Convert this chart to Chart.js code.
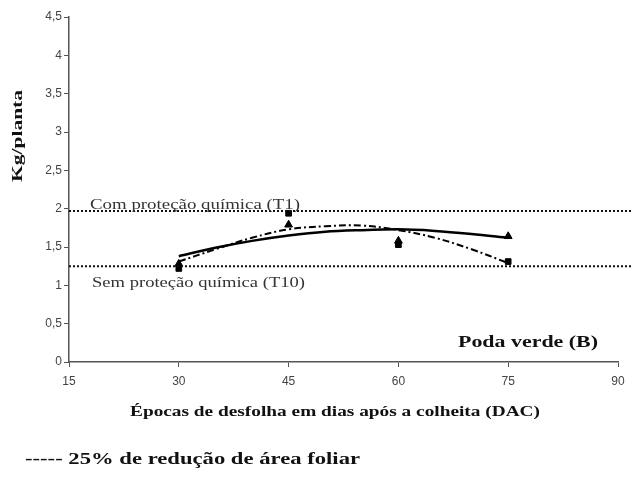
<!DOCTYPE html>
<html lang="pt">
<head>
  <meta charset="UTF-8">
  <title>Poda verde (B)</title>
  <script src="https://cdn.jsdelivr.net/npm/chart.js"></script>
  <style>
    html, body { margin: 0; padding: 0; background: #fff; }
    #wrap { width: 633px; height: 487px; }
  </style>
</head>
<body>
  <div id="wrap"><canvas id="podaChart" width="633" height="487"></canvas></div>
  <script>
    // values
    const epocas = [30, 45, 60, 75];
    const quadrados = [1.22, 1.94, 1.53, 1.31];
    const triangulos = [1.28, 1.79, 1.58, 1.64];

    // trend curves, read at every 5 days
    const tendenciaX = [30, 35, 40, 45, 50, 55, 60, 65, 70, 75];
    const tendenciaContinua = [1.38, 1.49, 1.58, 1.65, 1.70, 1.72, 1.73, 1.71, 1.67, 1.62];
    const tendenciaTracejada = [1.31, 1.47, 1.62, 1.73, 1.77, 1.78, 1.72, 1.62, 1.47, 1.29];

    // reference levels
    const refX = [15, 92.5];
    const comProtecao = 1.97;
    const semProtecao = 1.25;

    const xTicks = [15, 30, 45, 60, 75, 90];
    const yTicks = [0, 0.5, 1, 1.5, 2, 2.5, 3, 3.5, 4, 4.5];

    const pares = (xs, ys) => xs.map((x, i) => ({ x: x, y: ys[i] }));

    // text drawn on top, stretched to the widths seen in the figure
    const textos = [
      { t: 'Com proteção química (T1)', x: 90, y: 205, w: 210, font: '15px "Liberation Serif"', color: '#333' },
      { t: 'Sem proteção química (T10)', x: 92, y: 283, w: 213, font: '15px "Liberation Serif"', color: '#333' },
      { t: 'Poda verde (B)', x: 458, y: 343, w: 140, font: 'bold 17px "Liberation Serif"', color: '#111' },
      { t: 'Épocas de desfolha em dias após a colheita (DAC)', x: 130, y: 412, w: 410, font: 'bold 15px "Liberation Serif"', color: '#111' },
      { t: '----- 25% de redução de área foliar', x: 25, y: 460, w: 335, font: 'bold 17px "Liberation Serif"', color: '#111' }
    ];

    const textPlugin = {
      id: 'textos',
      afterDraw(chart) {
        const c = chart.ctx;
        c.save();
        c.textBaseline = 'middle';
        c.textAlign = 'left';
        textos.forEach(o => {
          c.font = o.font;
          c.fillStyle = o.color;
          const s = o.w / c.measureText(o.t).width;
          c.save();
          c.translate(o.x, o.y);
          c.scale(s, 1);
          c.fillText(o.t, 0, 0);
          c.restore();
        });
        // y title
        c.font = 'bold 14px "Liberation Serif"';
        c.fillStyle = '#111';
        const s = 92 / c.measureText('Kg/planta').width;
        c.translate(18, 136);
        c.rotate(-Math.PI / 2);
        c.scale(s, 1);
        c.textAlign = 'center';
        c.fillText('Kg/planta', 0, 0);
        c.restore();
      }
    };

    const ctx = document.getElementById('podaChart').getContext('2d');
    new Chart(ctx, {
      type: 'line',
      data: {
        datasets: [
          {
            label: 'Com proteção química (T1)',
            data: pares(refX, refX.map(() => comProtecao)),
            borderColor: '#111', borderWidth: 2, borderDash: [2, 2],
            pointRadius: 0, clip: false
          },
          {
            label: 'Sem proteção química (T10)',
            data: pares(refX, refX.map(() => semProtecao)),
            borderColor: '#111', borderWidth: 2, borderDash: [2, 2],
            pointRadius: 0, clip: false
          },
          {
            label: 'Tendência contínua',
            data: pares(tendenciaX, tendenciaContinua),
            borderColor: '#000', borderWidth: 2.5,
            pointRadius: 0, tension: 0.4, cubicInterpolationMode: 'monotone'
          },
          {
            label: 'Tendência tracejada',
            data: pares(tendenciaX, tendenciaTracejada),
            borderColor: '#000', borderWidth: 2, borderDash: [7, 3, 2, 3],
            pointRadius: 0, tension: 0.4
          },
          {
            label: 'Quadrados',
            data: pares(epocas, quadrados),
            showLine: false, pointStyle: 'rect', pointRadius: 4,
            backgroundColor: '#000', borderColor: '#000'
          },
          {
            label: 'Triângulos',
            data: pares(epocas, triangulos),
            showLine: false, pointStyle: 'triangle', pointRadius: 4.5,
            backgroundColor: '#000', borderColor: '#000'
          }
        ]
      },
      options: {
        responsive: false,
        animation: false,
        layout: { padding: { left: 0, right: 15, top: 17, bottom: 0 } },
        plugins: { legend: { display: false }, tooltip: { enabled: false } },
        scales: {
          x: {
            type: 'linear',
            min: 15, max: 90,
            afterFit: s => { s.height = 125; },
            afterBuildTicks: s => { s.ticks = xTicks.map(v => ({ value: v })); },
            grid: { drawOnChartArea: false, drawTicks: true, tickLength: 5, color: '#555' },
            border: { color: '#555', width: 1.5 },
            ticks: { color: '#444', padding: 7, font: { family: '"Liberation Sans"', size: 12 }, maxRotation: 0 }
          },
          y: {
            min: 0, max: 4.5,
            afterFit: s => { s.width = 69; },
            afterBuildTicks: s => { s.ticks = yTicks.map(v => ({ value: v })); },
            grid: { drawOnChartArea: false, drawTicks: true, tickLength: 5, color: '#555' },
            border: { color: '#555', width: 1.5 },
            ticks: {
              color: '#444', padding: 2, font: { family: '"Liberation Sans"', size: 12 },
              callback: v => String(v).replace('.', ',')
            }
          }
        }
      },
      plugins: [textPlugin]
    });
  </script>
</body>
</html>
